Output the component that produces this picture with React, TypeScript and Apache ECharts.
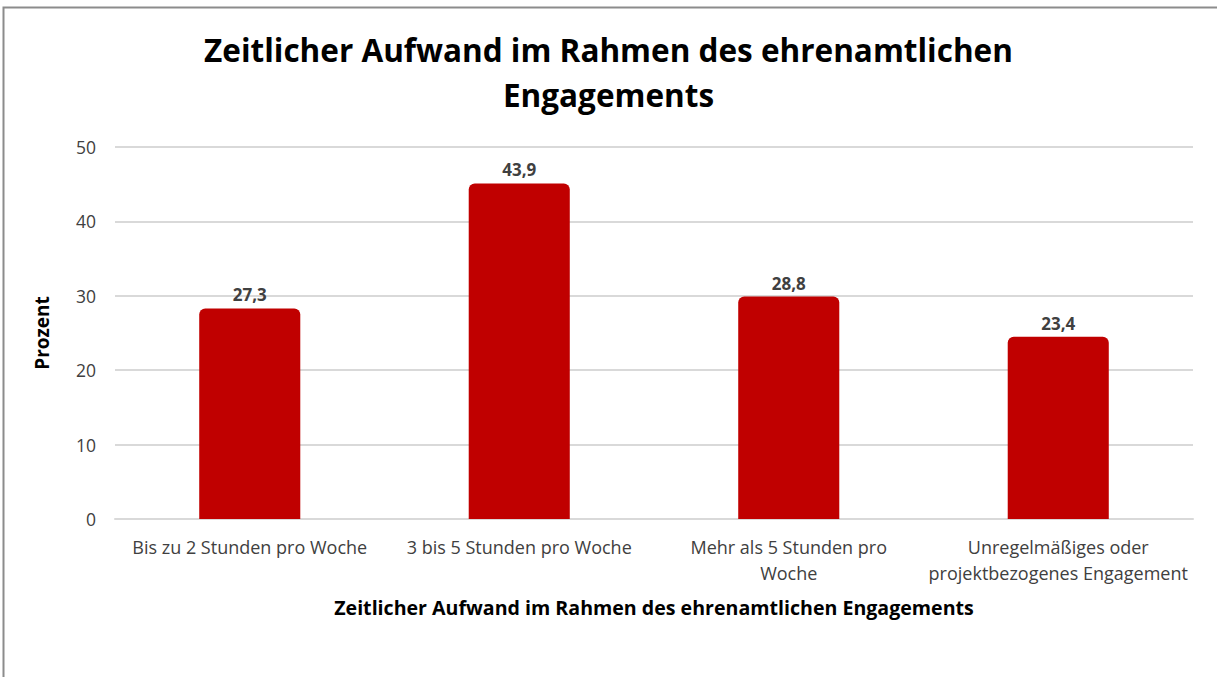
import React, { useEffect, useRef } from "react";
import * as echarts from "echarts";

const chartTitle = "Zeitlicher Aufwand im Rahmen des ehrenamtlichen\nEngagements";
const xAxisName = "Zeitlicher Aufwand im Rahmen des ehrenamtlichen Engagements";
const yAxisName = "Prozent";
const categories = [
  "Bis zu 2 Stunden pro Woche",
  "3 bis 5 Stunden pro Woche",
  "Mehr als 5 Stunden pro\nWoche",
  "Unregelmäßiges oder\nprojektbezogenes Engagement",
];
// bar heights as drawn in the picture
const barValues = [28.3, 45.1, 29.9, 24.5];
// data labels as printed in the picture
const valueLabels = ["27,3", "43,9", "28,8", "23,4"];

const normal = "'Open Sans', 'Noto Sans', sans-serif";

export default function App() {
  const ref = useRef<HTMLDivElement>(null);
  useEffect(() => {
    document.body.style.margin = "0";
    const chart = echarts.init(ref.current!, null, { renderer: "svg" });
    chart.setOption({
      animation: false,
      backgroundColor: "#ffffff",
      title: {
        text: chartTitle,
        left: "center",
        top: 22,
        textStyle: {
          fontFamily: normal,
          fontSize: 31.5,
          fontWeight: "bold",
          color: "#000000",
          lineHeight: 45,
        },
      },
      graphic: [
        {
          type: "rect",
          shape: { x: 3.5, y: 7.5, width: 1230, height: 690 },
          style: { fill: "none", stroke: "#8c8c8c", lineWidth: 2 },
          silent: true,
        },
      ],
      grid: { left: 115, right: 24, top: 147, bottom: 158 },
      xAxis: {
        type: "category",
        data: categories,
        name: xAxisName,
        nameLocation: "middle",
        nameGap: 78,
        nameTextStyle: {
          fontFamily: normal,
          fontSize: 19.6,
          fontWeight: "bold",
          color: "#000000",
        },
        axisLine: { show: true, lineStyle: { color: "#d9d9d9", width: 2 } },
        axisTick: { show: false },
        axisLabel: {
          fontFamily: normal,
          fontSize: 18,
          color: "#404040",
          lineHeight: 26,
          margin: 15,
          interval: 0,
        },
      },
      yAxis: {
        type: "value",
        min: 0,
        max: 50,
        interval: 10,
        name: yAxisName,
        nameLocation: "middle",
        nameGap: 64,
        nameRotate: 90,
        nameTextStyle: {
          fontFamily: normal,
          fontSize: 19,
          fontWeight: "bold",
          color: "#000000",
        },
        axisLine: { show: false },
        axisTick: { show: false },
        axisLabel: {
          fontFamily: normal,
          fontSize: 17.5,
          color: "#404040",
          margin: 19,
        },
        splitLine: { lineStyle: { color: "#d9d9d9", width: 2 } },
      },
      series: [
        {
          type: "bar",
          data: barValues,
          barWidth: "37.5%",
          itemStyle: { color: "#c00000", borderRadius: [6, 6, 0, 0] },
          label: {
            show: true,
            position: "top",
            distance: 5,
            fontFamily: normal,
            fontSize: 17,
            fontWeight: "bold",
            color: "#404040",
            formatter: (p: any) => valueLabels[p.dataIndex],
          },
        },
      ],
    });
    return () => chart.dispose();
  }, []);
  return (
    <div
      ref={ref}
      style={{ position: "absolute", left: 0, top: 0, width: 1217, height: 677 }}
    />
  );
}
